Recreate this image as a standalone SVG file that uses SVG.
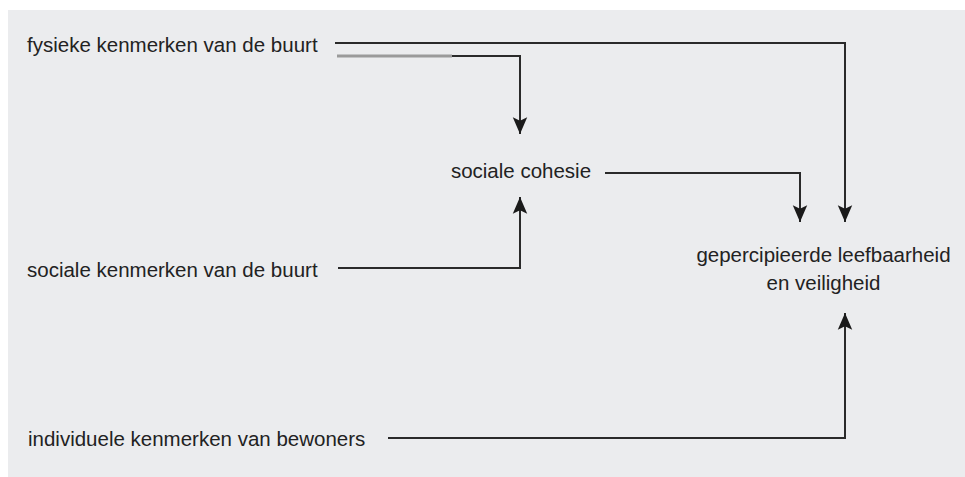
<svg xmlns="http://www.w3.org/2000/svg" width="965" height="477" viewBox="0 0 965 477">
<style>
text{font-family:"Liberation Sans",Arial,sans-serif;font-size:20.5px;fill:#222}
.c{fill:none;stroke:#2a2a2a;stroke-width:2}
</style>
<defs>
<marker id="ah" markerUnits="userSpaceOnUse" markerWidth="20" markerHeight="20" viewBox="-16 -8 18 16" refX="0" refY="0" orient="auto">
<path d="M0,0 L-15,-6.5 L-12,0 L-15,6.5 Z" fill="#1a1a1a"/>
</marker>
</defs>
<rect x="0" y="0" width="965" height="477" fill="#ffffff"/>
<rect x="8" y="10" width="957" height="467" fill="#ebecee"/>
<g id="connectors">
<path class="c" d="M335,43 H845 V222" marker-end="url(#ah)"/>
<path class="c" d="M337,56 H520 V134" marker-end="url(#ah)"/>
<path d="M337,56 H452" stroke="#9a9a9a" stroke-width="3" fill="none"/>
<path class="c" d="M338,268 H520 V197" marker-end="url(#ah)"/>
<path class="c" d="M605,173 H800 V222" marker-end="url(#ah)"/>
<path class="c" d="M388,438 H845 V313" marker-end="url(#ah)"/>
</g>
<g id="fysieke"><text x="27" y="52">fysieke kenmerken van de buurt</text></g>
<g id="sociale-kenmerken"><text x="27" y="277">sociale kenmerken van de buurt</text></g>
<g id="individuele"><text x="28" y="446">individuele kenmerken van bewoners</text></g>
<g id="cohesie"><text x="521" y="178" text-anchor="middle">sociale cohesie</text></g>
<g id="leefbaarheid">
<text x="823.5" y="262" text-anchor="middle">gepercipieerde leefbaarheid</text>
<text x="823.5" y="290" text-anchor="middle">en veiligheid</text>
</g>
</svg>
